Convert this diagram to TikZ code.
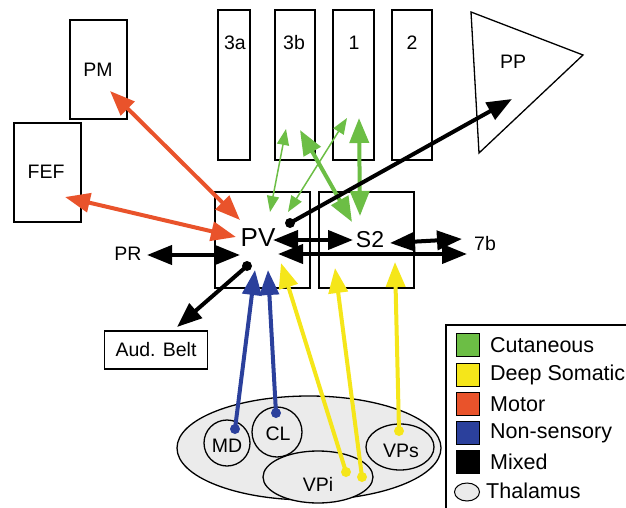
\documentclass[tikz,border=0pt]{standalone}
\usepackage{fontspec}
\setmainfont{Liberation Sans}
\usetikzlibrary{arrows.meta,shapes.geometric}
\definecolor{cgreen}{HTML}{6CBE45}
\definecolor{cyellow}{HTML}{F5E61A}
\definecolor{cred}{HTML}{E9532B}
\definecolor{cblue}{HTML}{2B409C}
\definecolor{cgray}{HTML}{EBEBEB}
\tikzset{
  area/.style={draw=black,line width=1.3pt,fill=white},
  lab/.style={font=\fontsize{19.5}{19.5}\selectfont},
  big/.style={font=\fontsize{26}{26}\selectfont},
  tipA/.tip={Triangle[length=25pt,width=19pt]},
  tipS/.tip={Triangle[length=16pt,width=12pt]},
  conn/.style={line width=4pt,-tipA},
  bconn/.style={line width=4pt,tipA-tipA},
  thinconn/.style={line width=1.5pt,tipS-tipS},
  legsq/.style={draw=black,line width=1pt,minimum width=23pt,minimum height=23pt,inner sep=0pt},
  legtx/.style={anchor=west,font=\fontsize{21.5}{21.5}\selectfont,inner sep=0pt},
}
\begin{document}
\begin{tikzpicture}[x=1pt,y=-1pt]
\useasboundingbox (0,0) rectangle (626,508);
% boxes
\draw[area] (70,20) rectangle (127,119); \node[lab] (pm) at (98,70) {PM};
\draw[area] (14,123) rectangle (81,222); \node[lab] (fef) at (46,172) {FEF};
\draw[area] (218,10) rectangle (250,160); \node[lab] (a3a) at (235,43) {3a};
\draw[area] (275,10) rectangle (315,160); \node[lab] (a3b) at (294,43) {3b};
\draw[area] (333,10) rectangle (374,160); \node[lab] (a1) at (354,43) {1};
\draw[area] (392,10) rectangle (432,160); \node[lab] (a2) at (412,43) {2};
\draw[area] (471,12) -- (583,55) -- (479,153) -- cycle; \node[lab] (pp) at (513,62) {PP};
\draw[area] (215,192) rectangle (310,288);
\draw[area] (319,192) rectangle (414,288);
\node[big] (pv) at (258,238) {PV};
\node[font=\fontsize{23}{23}\selectfont] (s2) at (370,240) {S2};
\node[lab] (b7) at (485,244) {7b};
\node[lab] (pr) at (128,254) {PR};
\node[draw,line width=1.3pt,minimum width=103pt,minimum height=38pt,inner sep=0pt,lab] (aud) at (156,350) {Aud. Belt};
% thalamus
\draw[line width=1.3pt,fill=cgray] (309,448) ellipse [x radius=132,y radius=52];
\draw[line width=1.3pt,fill=cgray] (227,443) circle (23); \node[lab] (md) at (227,446) {MD};
\draw[line width=1.3pt,fill=cgray] (277,432) circle (25); \node[lab] (cl) at (278,434) {CL};
\draw[line width=1.3pt,fill=cgray] (318,477) ellipse [x radius=55,y radius=26]; \node[lab] (vpi) at (318,484) {VPi};
\draw[line width=1.3pt,fill=cgray] (400,447) ellipse [x radius=34,y radius=23]; \node[lab] (vps) at (401,451) {VPs};
% coordinates
\coordinate (pmE) at (110,91); \coordinate (pvR1) at (240,220);
\coordinate (fefE) at (65,197); \coordinate (pvR2) at (236,237);
\coordinate (pvD1) at (290,223); \coordinate (ppT) at (512,99);
\coordinate (pvS) at (273,240); \coordinate (s2P) at (353,240);
\coordinate (s2R) at (390,243); \coordinate (b7a) at (462,239);
\coordinate (pvL) at (278,254); \coordinate (b7b) at (467,254);
\coordinate (prE) at (147,255); \coordinate (pvW) at (240,255);
\coordinate (pvD2) at (247,266); \coordinate (audT) at (177,327);
\coordinate (g1a) at (270,212); \coordinate (g1b) at (286,129);
\coordinate (g2a) at (288,212); \coordinate (g2b) at (347,118);
\coordinate (g3a) at (300,130); \coordinate (g3b) at (352,222);
\coordinate (g4a) at (359,118); \coordinate (g4b) at (360,216);
\coordinate (mdD) at (235,429); \coordinate (bl1) at (255,270);
\coordinate (clD) at (276,413); \coordinate (bl2) at (268,270);
\coordinate (vpiD1) at (346,472); \coordinate (y1) at (281,263);
\coordinate (vpiD2) at (362,477); \coordinate (y2) at (335,268);
\coordinate (vpsD) at (399,431); \coordinate (y3) at (395,262);
% red
\draw[bconn,cred] (pmE) -- (pvR1);
\draw[bconn,cred] (fefE) -- (pvR2);
% green
\draw[thinconn,cgreen] (g1a) -- (g1b);
\draw[thinconn,cgreen] (g2a) -- (g2b);
\draw[bconn,cgreen] (g3a) -- (g3b);
\draw[bconn,cgreen] (g4a) -- (g4b);
% black
\draw[conn,black] (pvD1) -- (ppT); \fill (pvD1) circle (5);
\draw[bconn] (pvS) -- (s2P);
\draw[bconn] (s2R) -- (b7a);
\draw[bconn] (pvL) -- (b7b);
\draw[bconn] (prE) -- (pvW);
\draw[conn] (pvD2) -- (audT); \fill (pvD2) circle (5);
% blue
\draw[conn,cblue] (mdD) -- (bl1); \fill[cblue] (mdD) circle (5);
\draw[conn,cblue] (clD) -- (bl2); \fill[cblue] (clD) circle (5);
% yellow
\draw[conn,cyellow] (vpiD1) -- (y1); \fill[cyellow] (vpiD1) circle (5);
\draw[conn,cyellow] (vpiD2) -- (y2); \fill[cyellow] (vpiD2) circle (5);
\draw[conn,cyellow] (vpsD) -- (y3); \fill[cyellow] (vpsD) circle (5);
% legend
\draw[line width=1.3pt] (446,508) -- (446,325) -- (640,325);
\node[legsq,fill=cgreen] (lg1) at (468,345) {}; \node[legtx] (lt1) at (490,345) {Cutaneous};
\node[legsq,fill=cyellow] (lg2) at (468,375) {}; \node[legtx] (lt2) at (490,375) {Deep Somatic};
\node[legsq,fill=cred] (lg3) at (468,404) {}; \node[legtx] (lt3) at (490,404) {Motor};
\node[legsq,fill=cblue] (lg4) at (468,433) {}; \node[legtx] (lt4) at (490,433) {Non-sensory};
\node[legsq,fill=black] (lg5) at (468,462) {}; \node[legtx] (lt5) at (490,462) {Mixed};
\node[draw,ellipse,fill=cgray,line width=1pt,minimum width=25pt,minimum height=18pt,inner sep=0pt] (lg6) at (467,492) {}; \node[legtx] (lt6) at (486,491) {Thalamus};
\end{tikzpicture}
\end{document}
